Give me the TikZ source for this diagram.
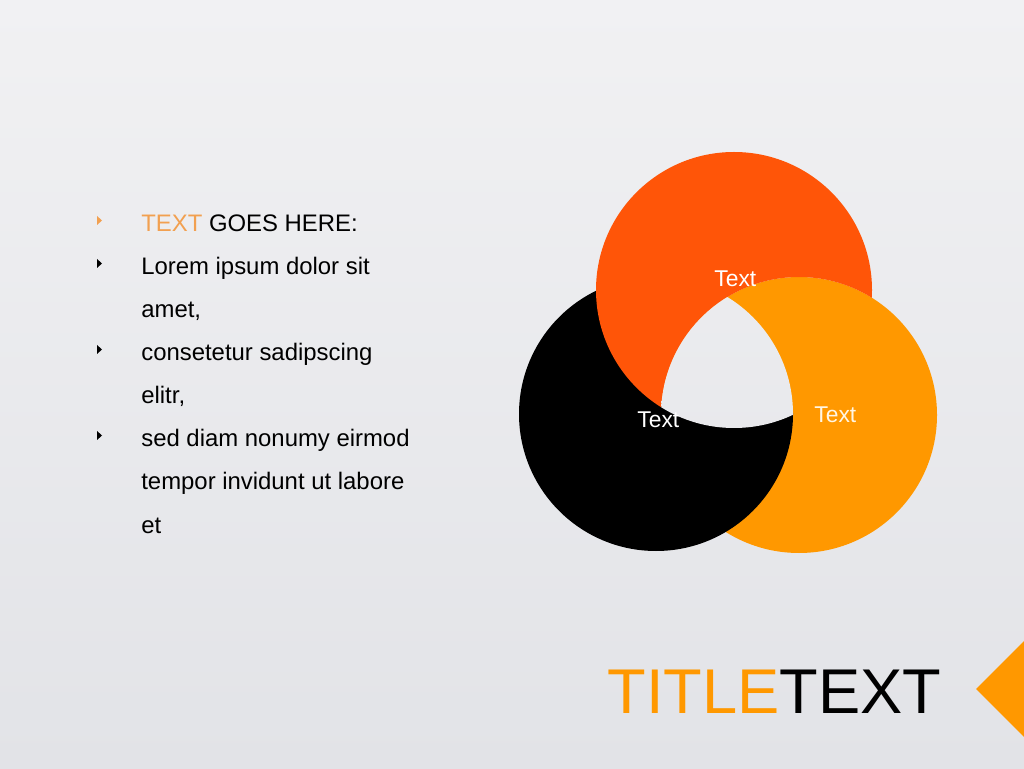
\documentclass[tikz,border=0pt]{standalone}
\usepackage{fontspec}
\setmainfont{Liberation Sans}
\usepackage{tikz}
\usetikzlibrary{positioning}

\definecolor{bgtop}{RGB}{241,241,243}
\definecolor{bgbot}{RGB}{226,227,231}
\definecolor{ringred}{RGB}{255,85,8}
\definecolor{ringorange}{RGB}{255,152,0}
\definecolor{ringblack}{RGB}{0,0,0}
\definecolor{softorange}{RGB}{242,160,80}
\definecolor{paletext}{RGB}{255,246,228}

\begin{document}
\begin{tikzpicture}[x=0.02cm, y=0.02cm,
    item/.style={anchor=base west, inner sep=0pt, font=\fontsize{13.6}{16}\selectfont},
    ringlabel/.style={anchor=base west, inner sep=0pt, font=\fontsize{13}{15}\selectfont}]
  \clip (0,0) rectangle (1024,768);
  \shade[top color=bgtop, bottom color=bgbot] (0,0) rectangle (1024,768);

  \coordinate (cblack) at (656,354);
  \coordinate (corange) at (799,353);
  \coordinate (cred) at (734,478);

  \fill[ringorange] (corange) circle (138);
  \begin{scope}[even odd rule]
    \clip (0,0) rectangle (1024,768) (cred) circle (136.5);
    \fill[ringblack] (cblack) circle (137);
  \end{scope}
  \begin{scope}[even odd rule]
    \clip (0,0) rectangle (1024,768) (corange) circle (138);
    \fill[ringred] (cred) circle (138);
  \end{scope}
  \begin{scope}
    \clip (cred) circle (138);
    \clip (corange) circle (138);
    \clip (cblack) circle (137);
    \shade[top color=bgtop, bottom color=bgbot] (0,0) rectangle (1024,768);
  \end{scope}

  \node[ringlabel, white] (tred) at (714,481) {Text};
  \node[ringlabel, white] (tblack) at (637,340) {Text};
  \node[ringlabel, paletext] (torange) at (814,345) {Text};

  \fill[softorange] (97,543) -- (102,547.5) -- (97,552) -- cycle;
  \foreach \y in {504.5, 418.5, 332.5}
    \fill[black] (97,\y-4.5) -- (102,\y) -- (97,\y+4.5) -- cycle;

  \node[item] (l1) at (141,536) {\textcolor{softorange}{TEXT} GOES HERE:};
  \node[item] (l2) at (141,493) {Lorem ipsum dolor sit};
  \node[item] (l3) at (141,450) {amet,};
  \node[item] (l4) at (141,407) {consetetur sadipscing};
  \node[item] (l5) at (141,364) {elitr,};
  \node[item] (l6) at (141,321) {sed diam nonumy eirmod};
  \node[item] (l7) at (141,278) {tempor invidunt ut labore};
  \node[item] (l8) at (141,235) {et};

  \node[anchor=base west, inner sep=0pt, font=\fontsize{36}{40}\selectfont] (title) at (607,55)
    {\textcolor{ringorange}{TITLE}TEXT};

  \fill[ringorange] (976,79) -- (1025,128) -- (1074,79) -- (1025,30) -- cycle;
\end{tikzpicture}
\end{document}
